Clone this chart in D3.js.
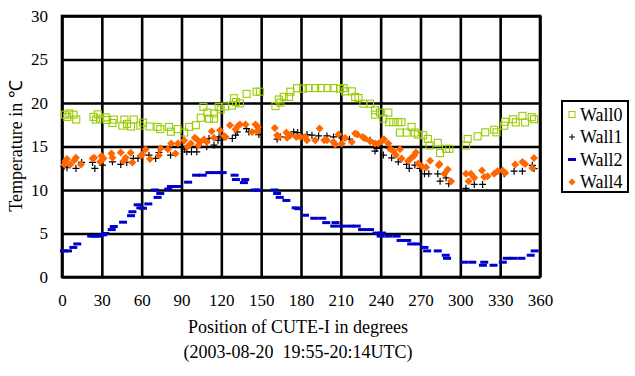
<!DOCTYPE html>
<html lang="en">
<head>
    <meta charset="UTF-8">
    <script type="text/javascript" src="https://d3js.org/d3.v7.min.js"></script>
    <title>CUTE-I wall temperatures</title>
    <style>
        body { margin: 0; background: #fff; }
    </style>
</head>
<body>
<div id="Area"></div>
<script>
    // tick values
    const xTicks = [0, 30, 60, 90, 120, 150, 180, 210, 240, 270, 300, 330, 360];
    const yTicks = [0, 5, 10, 15, 20, 25, 30];
    const seriesNames = ["Wall0", "Wall1", "Wall2", "Wall4"];

    // [position in degrees, temperature]
    const wall0 = [
        [2.2,18.66],[4,18.4],[5.5,18.8],[8.7,18.66],[10.7,18.1],
        [23.7,18.4],[25.5,18.1],[27,18.7],[28.7,18.2],[33,18.35],[34,18.05],[38,17.7],[39,18.1],
        [45.5,17.4],[47,18.1],[49,17.6],[52,17.3],[54,18.1],[59,17.4],[61,17.75],[66,17.3],
        [72,17.25],[74,17.0],[80.5,17.25],[82,16.7],[87,17.0],[92,16.6],
        [95.75,17.25],[100.75,17.45],[104.5,18.3],[106.5,19.55],[109.5,18.9],[110.75,18.2],
        [114.5,18.2],[114.5,18.8],[118,19.55],[119.5,19.25],[123,19.6],[128,19.7],[129.5,20.55],
        [131,20.1],[134,19.95],[139,21.05],[146.5,21.3],[149,21.3],
        [160.75,19.65],[163.25,20.4],[164.5,20.05],[167,20.7],[171,20.7],[172,21.3],[177,21.7],
        [181.5,21.64],[185.75,21.72],[190.75,21.72],[195,21.72],[200,21.72],[204.5,21.72],
        [209.5,21.64],[212,21.72],[213.25,21.34],[218.25,21.34],[220.75,20.69],[223.25,20.57],
        [227,19.92],[232,19.92],[235.75,19.16],[235.75,18.66],[239.5,18.9],[242,18.2],[245.75,18.9],
        [246.5,17.8],[249.5,17.8],[253.25,17.8],[255.75,17.8],[254.5,16.6],[259.5,16.6],
        [263.25,17.25],[265.75,16.6],[268,16.37],[272,16.3],
        [275.5,15.87],[276.75,15.11],[283,15.42],[284.75,14.24],[289.25,14.73],[291.75,14.73],
        [304.25,15.11],[305.5,15.87],[313,16.17],[318.75,16.63],[325.5,16.93],[327.25,16.63],
        [333,17.39],[333.75,17.84],[339.75,18.14],[341.75,17.77],[346.75,18.52],[348.75,17.77],
        [353.75,18.37],[355.5,18.14]
    ];

    const wall1 = [
        [1.5,12.7],[3.75,12.56],[10.5,12.48],[14.75,13.17],[23,13.17],[24.75,12.48],[30.5,12.86],
        [38,13.24],[44.25,12.94],[48.75,13.17],[53.75,13.63],[57.25,13.63],[65.5,14.0],[70.5,13.63],
        [73,14.31],[81.75,14.0],[92.25,14.69],
        [94,14.39],[97.5,14.39],[101.5,14.39],[109,14.96],[110.75,15.92],[114.5,15.15],[117.5,15.72],
        [118.25,16.1],[122,16.1],[128.25,15.92],[130.75,16.3],[132,16.68],[139,17.06],[140.75,16.68],
        [148.25,16.37],[162,15.84],[164.5,16.1],[174.5,16.68],[177.5,16.6],
        [184.5,16.37],[188.25,16.3],[193.25,16.22],[199.5,16.22],[204.5,16.1],[209,16.3],[216.5,15.84],
        [232,15.72],[235.75,14.47],[237,14.77],[242,14.01],[245.75,14.85],[248.25,13.7],[253.25,13.24],
        [259.5,12.94],[261.5,12.48],[265.75,12.86],[269.5,12.48],
        [273,11.86],[276.25,11.86],[283,11.86],[284.75,11.02],[289.25,11.4],[291.25,10.72],
        [304.25,10.19],[310.5,10.64],[316.75,10.64],[333,11.86],[340.5,12.16],[346.75,12.16],
        [354.25,12.84],[355.5,12.46]
    ];

    const wall2 = [
        [1.5,3.0],[4.5,3.0],[8.5,3.4],[11.5,3.8],[22,4.7],[25,4.7],[28,4.7],[31,4.85],[32.5,5.0],
        [37.5,5.45],[39,5.8],[46,6.3],[52,7.05],[53,7.5],[57,8.3],[59,7.95],[61,7.9],[65,8.4],
        [70,10.0],[72,9.15],[74,9.6],[80,10.1],[82,10.4],[87,10.4],[95,10.9],[101,11.7],[106,11.7],
        [111,12.0],[116,12.0],[121,12.0],[130,11.7],[131,11.2],[137,10.85],[138,11.2],
        [145,10.0],[148,10.0],[160,10.0],[162,9.6],[164,9.15],[169,8.8],[176,7.95],[178,7.85],
        [183,7.1],[190,6.75],[196,6.75],[199,6.25],[205,5.85],[206,6.25],[211,5.85],[217,5.85],
        [222,5.85],[226,5.45],[232,5.45],[237,5.05],[240,4.7],[241,5.05],[246,4.7],[252,4.7],
        [255,4.2],[260,4.2],[263,3.8],[268,3.8],[273,3.4],[275,3.0],[283,3.0],[289,2.5],[290,2.15],
        [303,1.7],[309,1.7],[317,1.35],[318,1.7],[325,1.35],[332,1.7],[335,2.15],[340,2.15],
        [346,2.15],[353,2.5],[356,3.0]
    ];

    const wall4 = [
        [1.75,12.94],[2.5,13.3],[3.75,13.55],[6.25,12.94],[9.25,13.43],[10.5,13.7],[14.25,12.94],
        [23,13.63],[24.25,13.7],[28.75,13.24],[29.75,13.9],[31.25,13.63],[37.25,14.2],[38,13.7],
        [44.25,14.31],[46.25,13.32],[48,13.7],[51.75,14.27],[53,13.17],[59.25,13.93],[60.5,14.08],
        [63,14.69],[66.25,13.55],[73,14.0],[74.25,14.77],[79.75,14.69],[82.25,15.34],[85.5,14.2],
        [87.25,15.34],[92,15.7],
        [94.5,14.96],[97,15.34],[100,16.0],[101.5,15.84],[102.75,15.15],[104,15.53],[107,15.8],
        [109,15.53],[112.75,16.76],[114.5,16.0],[119,16.87],[122,16.22],[123.25,16.1],[126.5,17.44],
        [130.75,16.98],[132.5,17.37],[134,17.52],[138.25,17.52],[143.25,16.68],[145.75,17.52],
        [147,16.76],[147.5,17.25],[160.25,17.14],[162,16.3],[163.25,16.1],[169,16.6],[169.5,16.0],
        [172,16.3],[176.5,16.1],[179.5,16.1],
        [183.25,16.1],[184.5,15.72],[190.75,15.72],[194,17.06],[197.5,15.72],[199.5,15.72],
        [204.5,15.53],[205.75,15.23],[208.25,16.37],[210.75,15.34],[213.25,15.99],[218.25,15.53],
        [220.75,16.49],[222.5,16.37],[226.5,16.1],[228.25,15.92],[232,15.61],[235.75,15.34],
        [238.25,15.34],[240.75,15.61],[242.5,15.84],[245.75,15.34],[247.5,14.69],[249.5,14.47],
        [251.5,14.01],[254.5,14.69],[255.75,13.63],[260.75,13.32],[263.25,13.7],[265,13.93],
        [266.5,14.31],[268.25,13.05],[271.5,12.67],
        [274.25,12.61],[277.25,13.37],[283.75,12.84],[284.25,12.99],[288,11.86],[290.5,12.35],
        [293,11.02],[304.25,11.86],[306.25,11.02],[308,11.86],[310.5,11.4],[316.25,12.23],
        [318,11.48],[320.5,11.59],[325.5,11.86],[328,12.16],[331.75,12.23],[333.75,11.97],
        [341.25,12.92],[346.75,13.22],[348.75,12.99],[354.25,12.54],[355.5,13.67]
    ];

    const colors = { Wall0: "#99cc00", Wall1: "#000000", Wall2: "#0000cc", Wall4: "#ff6600" };

    const width = 478, height = 261;

    const svg = d3.select("#Area")
      .append("svg")
        .attr("width", 635)
        .attr("height", 376);

    const g = svg.append("g").attr("transform", "translate(62,16)");

    const x = d3.scaleLinear().domain([0, 360]).range([0, width]);
    const y = d3.scaleLinear().domain([0, 30]).range([height, 0]);

    // grid lines + tick labels through the axes
    const xAxis = g.append("g")
        .attr("transform", "translate(0," + height + ")")
        .call(d3.axisBottom(x).tickValues(xTicks).tickSize(-height).tickPadding(17));
    xAxis.selectAll(".tick text").attr("font-family", "Liberation Serif").attr("font-size", 17);

    const yAxis = g.append("g")
        .call(d3.axisLeft(y).tickValues(yTicks).tickSize(-width).tickPadding(14));
    yAxis.selectAll(".tick text").attr("font-family", "Liberation Serif").attr("font-size", 17);

    [xAxis, yAxis].forEach(a => {
        a.select(".domain").remove();
        a.selectAll(".tick line").attr("stroke", "#000").attr("stroke-width", 2.6);
    });

    // axis titles
    svg.append("text")
        .attr("x", 298).attr("y", 333)
        .attr("text-anchor", "middle")
        .attr("font-family", "Liberation Serif").attr("font-size", 18)
        .text("Position of CUTE-I in degrees");
    svg.append("text")
        .attr("x", 298).attr("y", 358)
        .attr("text-anchor", "middle")
        .attr("font-family", "Liberation Serif").attr("font-size", 18)
        .text("(2003-08-20\u00a0\u00a019:55-20:14UTC)");
    svg.append("text")
        .attr("transform", "translate(22,146) rotate(-90)")
        .attr("text-anchor", "middle")
        .attr("font-family", "Liberation Serif").attr("font-size", 18)
        .text("Temperature in ℃");

    g.append("rect")
        .attr("width", width).attr("height", height)
        .attr("fill", "none").attr("stroke", "#000").attr("stroke-width", 2.6);

    // markers
    g.append("g").selectAll("rect")
      .data(wall2)
      .enter()
      .append("rect")
        .attr("x", d => x(d[0]) - 4)
        .attr("y", d => y(d[1]) - 1.5)
        .attr("width", 8)
        .attr("height", 3)
        .attr("fill", colors.Wall2);

    g.append("g").selectAll("rect")
      .data(wall0)
      .enter()
      .append("rect")
        .attr("x", d => x(d[0]) - 3.5)
        .attr("y", d => y(d[1]) - 3.5)
        .attr("width", 7)
        .attr("height", 7)
        .attr("fill", "none")
        .attr("stroke", colors.Wall0)
        .attr("stroke-width", 1.1);

    g.append("g").selectAll("path")
      .data(wall1)
      .enter()
      .append("path")
        .attr("d", d => "M" + (x(d[0]) - 3.5) + "," + y(d[1]) + "h7M" + x(d[0]) + "," + (y(d[1]) - 3.5) + "v7")
        .attr("stroke", colors.Wall1)
        .attr("stroke-width", 1.2);

    g.append("g").selectAll("path")
      .data(wall4)
      .enter()
      .append("path")
        .attr("transform", d => "translate(" + x(d[0]) + "," + y(d[1]) + ")")
        .attr("d", "M0,-4L4,0L0,4L-4,0Z")
        .attr("fill", colors.Wall4);

    // legend
    const legend = svg.append("g").attr("transform", "translate(562,101)");
    legend.append("rect")
        .attr("width", 66).attr("height", 91)
        .attr("fill", "#fff").attr("stroke", "#000").attr("stroke-width", 2);
    seriesNames.forEach((name, i) => {
        const ly = 13.5 + i * 22.5;
        const item = legend.append("g").attr("transform", "translate(10," + ly + ")");
        if (name === "Wall0") {
            item.append("rect").attr("x", -3).attr("y", -3).attr("width", 6).attr("height", 6)
                .attr("fill", "none").attr("stroke", colors.Wall0);
        } else if (name === "Wall1") {
            item.append("path").attr("d", "M-3,0h6M0,-3v6").attr("stroke", "#000");
        } else if (name === "Wall2") {
            item.append("rect").attr("x", -4).attr("y", -1.5).attr("width", 8).attr("height", 3)
                .attr("fill", colors.Wall2);
        } else {
            item.append("path").attr("d", "M0,-3.5L3.5,0L0,3.5L-3.5,0Z")
                .attr("fill", colors.Wall4);
        }
        item.append("text")
            .attr("x", 8).attr("y", 6)
            .attr("font-family", "Liberation Serif").attr("font-size", 18)
            .text(name);
    });
</script>
</body>
</html>
